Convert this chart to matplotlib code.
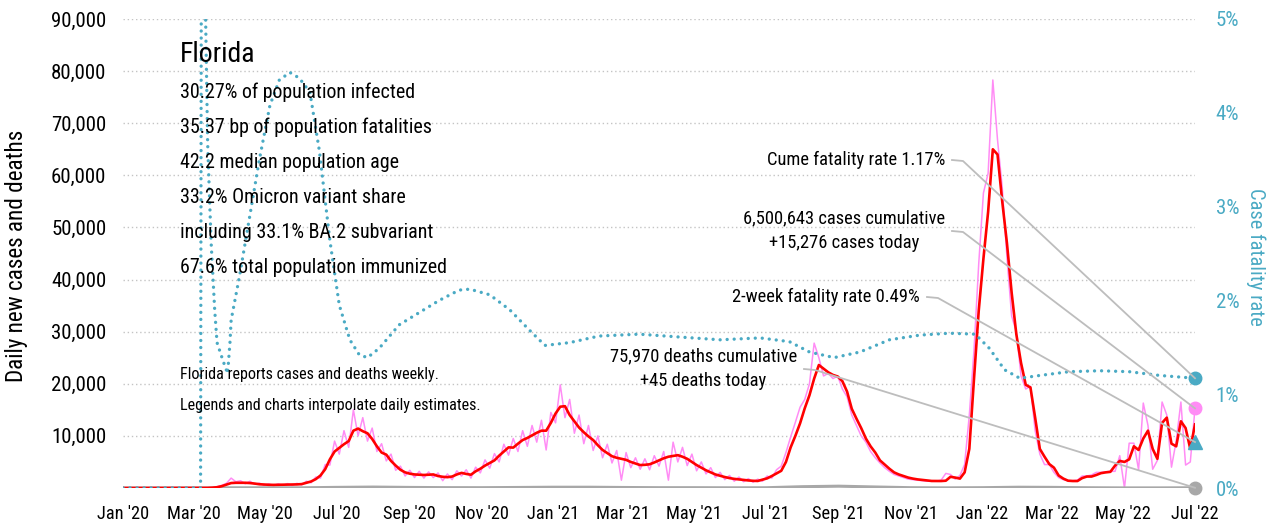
import os
import pandas as pd
import matplotlib
matplotlib.use("Agg")
import matplotlib.pyplot as plt
import matplotlib.dates as mdates
from matplotlib import font_manager as fm
from matplotlib.lines import Line2D

# ---- data (4-day grid, Jan 1 2020 .. Jul 1 2022) ----
grid_start, grid_end = "2020-01-01", "2022-07-01"

cases_smooth = [
    0, 0, 0, 0, 0, 0, 0, 0, 0, 0, 0, 0, 0, 0, 0, 0,
    0, 0, 20, 60, 150,
    350, 650, 950, 1000, 1000, 1000, 950, 850, 720, 670,
    620, 600, 620, 640, 650, 670, 690, 750, 1000, 1250,
    1700, 2400, 3600, 5500, 7000, 7700, 8400, 9000, 11000, 11400,
    10900, 10500, 9400, 8000, 6800, 6400, 5200, 4300, 3500, 3000,
    2750, 2600, 2550, 2500, 2550, 2600, 2300, 2150, 2080, 2200,
    2600, 2900, 2700, 2550, 3200, 3700, 4300, 4800, 5300, 6200,
    7000, 7800, 7750, 8500, 9200, 9600, 10100, 10600, 11000, 11000,
    12500, 14300, 15600, 15700, 14000, 12800, 11600, 10700, 9900, 9200,
    8200, 7300, 6700, 6100, 5800, 5600, 5400, 5000, 4700, 4400,
    4450, 4550, 4900, 5300, 5700, 6000, 6150, 6300, 6000, 5600,
    5000, 4400, 3900, 3400, 3000, 2600, 2350, 2100, 1900, 1750,
    1650, 1550, 1450, 1380, 1350, 1600, 1850, 2300, 2800, 3300,
    5000, 7800, 10000, 12400, 15300, 17800, 21000, 23600, 22900, 22200,
    21700, 21400, 20500, 18500, 15200, 13300, 11500, 9500, 8000, 6800,
    5300, 4500, 3700, 3000, 2600, 2300, 2000, 1800, 1650, 1550,
    1450, 1350, 1340, 1340, 1400, 2150, 2000, 1800, 3000, 7500,
    21000, 34000, 44000, 53000, 65000, 64000, 55000, 47000, 37500, 29500,
    24000, 19800, 19300, 13500, 7500, 6000, 4600, 3900, 2400, 1800,
    1400, 1340, 1340, 1900, 2200, 2200, 2500, 2850, 3000, 3100,
    4300, 5200, 5000, 5500, 8000, 7300, 9500, 11000, 7500, 5600,
    12500, 13500, 8500, 8000, 12800, 11500, 7500, 12200,
]

cases_raw = [
    0, 0, 0, 0, 0, 0, 0, 0, 0, 0, 0, 0, 0, 0, 0, 0,
    0, 10, 40, 100, 250,
    500, 900, 1900, 1200, 1400, 800, 1300, 700, 950, 500,
    800, 450, 800, 500, 850, 500, 900, 600, 1300, 1000,
    2100, 1900, 4500, 4400, 9000, 6500, 11000, 7800, 15000, 10000,
    13500, 9000, 11500, 7000, 8500, 5200, 6500, 3400, 4200, 2300,
    3400, 2000, 3200, 1900, 3100, 2000, 2900, 1400, 2700, 1600,
    3300, 2300, 3500, 1900, 4000, 2900, 5400, 3800, 6600, 5000,
    8400, 6300, 9500, 7000, 11000, 8000, 12000, 8800, 13000, 7300,
    14500, 12500, 19800, 13500, 17000, 10500, 14000, 8500, 12000, 7200,
    10000, 5800, 8400, 4800, 7200, 1500, 6800, 3900, 5800, 3600,
    5600, 3500, 6200, 4200, 7000, 1500, 8800, 5000, 7800, 4300,
    6500, 3300, 5000, 2700, 3900, 2000, 3000, 1600, 2400, 1300,
    2100, 1200, 1800, 1100, 1700, 1300, 2300, 1900, 3500, 4200,
    6800, 9800, 12600, 15500, 17000, 20000, 27800, 25000, 21500, 22000,
    21000, 21500, 19000, 17500, 14000, 12000, 10000, 8800, 7000, 5800,
    4800, 3900, 3200, 2600, 2300, 2000, 1700, 1600, 1500, 1400,
    1300, 1300, 1300, 1500, 2800, 2600, 1700, 2400, 4500, 14000,
    26500, 43000, 56600, 60400, 78300, 66800, 57700, 44300, 33000, 30000,
    21500, 19000, 19500, 11000, 6500, 4500, 4500, 3000, 2000, 1600,
    1400, 1400, 1500, 2300, 2300, 2500, 3000, 3000, 3100, 3200,
    3200, 6200, 0, 8600, 8600, 3500, 16300, 12000, 3600, 5300,
    16500, 14000, 4000, 9000, 16500, 4400, 5000, 15276,
]

# daily deaths, month starts
deaths = [
    0, 0, 2, 40, 45, 40, 120, 180, 110, 70, 60, 100,
    150, 150, 100, 60, 60, 40, 50, 250, 350, 200, 60, 30,
    60, 150, 120, 50, 20, 20, 45,
]

fatality_dates = [
    "2020-01-01", "2020-03-07", "2020-03-08", "2020-03-10", "2020-03-13",
    "2020-03-15", "2020-03-16", "2020-03-19", "2020-03-21", "2020-03-26",
    "2020-03-30", "2020-04-01", "2020-04-02", "2020-04-09", "2020-04-18",
    "2020-04-26", "2020-05-05", "2020-05-13", "2020-05-22", "2020-05-30",
    "2020-06-08", "2020-06-16", "2020-06-25", "2020-07-03", "2020-07-12",
    "2020-07-20", "2020-07-27", "2020-08-06", "2020-08-23", "2020-09-09",
    "2020-09-26", "2020-10-13", "2020-10-22", "2020-11-08", "2020-11-25",
    "2020-12-12", "2020-12-25", "2021-01-15", "2021-02-09", "2021-03-15",
    "2021-04-18", "2021-05-23", "2021-06-26", "2021-07-21", "2021-08-07",
    "2021-08-28", "2021-09-19", "2021-10-14", "2021-11-09", "2021-12-04",
    "2021-12-26", "2022-01-07", "2022-01-20", "2022-02-02", "2022-02-19",
    "2022-03-16", "2022-04-11", "2022-05-06", "2022-06-01", "2022-07-01",
]
fatality_pct = [
    0, 0, 9.0, 6.0, 3.68,
    2.96, 2.61, 1.90, 1.55, 1.36,
    1.22, 1.55, 1.79, 2.25, 2.91,
    3.50, 4.08, 4.35, 4.43, 4.37,
    4.22, 3.60, 2.64, 1.95, 1.58,
    1.42, 1.39, 1.49, 1.74, 1.87,
    2.00, 2.11, 2.12, 2.06, 1.90,
    1.68, 1.52, 1.55, 1.62, 1.64,
    1.61, 1.58, 1.60, 1.56, 1.45,
    1.39, 1.45, 1.58, 1.63, 1.65,
    1.64, 1.49, 1.26, 1.17, 1.20,
    1.24, 1.25, 1.24, 1.20, 1.17,
]

stats_lines = [
    "30.27% of population infected",
    "35.37 bp of population fatalities",
    "42.2 median population age",
    "33.2% Omicron variant share",
    "including 33.1% BA.2 subvariant",
    "67.6% total population immunized",
]
notes = [
    "Florida reports cases and deaths weekly.",
    "Legends and charts interpolate daily estimates.",
]
cume_rate = 1.17
two_week_rate = 0.49
cases_today = 15276
deaths_today = 45

# ---- styling ----
W, H = 1281, 529
PINK = "#ff8cf5"
RED = "#ff0000"
GRAY = "#a8a8a8"
TEAL = "#4aaac4"
LEADER = "#bdbdbd"


def fx(px):
    return px / W


def fy(py):
    return 1 - py / H


def pick_font():
    # the reference uses a condensed grotesque; take the narrowest one installed
    candidates = [
        ("Roboto Condensed", "normal"),
        ("Liberation Sans Narrow", "normal"),
        ("Noto Sans", "condensed"),
        ("DejaVu Sans", "condensed"),
        ("Open Sans", "condensed"),
    ]
    for fam, stretch in candidates:
        try:
            path = fm.findfont(fm.FontProperties(family=fam, stretch=stretch),
                               fallback_to_default=False)
        except ValueError:
            continue
        name = os.path.basename(path).lower()
        if stretch == "normal" or "cond" in name or "narrow" in name:
            return fam, stretch
    return "Roboto", "normal"


def main():
    family, stretch = pick_font()
    plt.rcParams["font.family"] = [family, "DejaVu Sans"]
    plt.rcParams["font.stretch"] = stretch

    grid = pd.date_range(grid_start, grid_end, freq="4D")
    month_starts = pd.date_range(grid_start, grid_end, freq="MS")
    fat_dates = pd.to_datetime(fatality_dates)
    end = grid[-1]

    fig = plt.figure(figsize=(W / 100, H / 100), dpi=100)
    renderer = fig.canvas.get_renderer()

    def fit(sample, width_px):
        # font size that makes `sample` about width_px wide, as in the reference
        t = fig.text(0, 0, sample, fontsize=10)
        w = t.get_window_extent(renderer).width
        t.remove()
        return 10 * width_px / w

    fs_title = fit("Florida", 76)
    fs_stats = fit(stats_lines[0], 234)
    fs_notes = fit(notes[0], 258)
    fs_note = fit("Cume fatality rate 1.17%", 177)
    fs_ytick = fit("90,000", 55)
    fs_xtick = fit("Jan '20", 52)
    fs_ylab = fit("Daily new cases and deaths", 250)
    fs_ylab2 = fit("Case fatality rate", 136)

    ax = fig.add_axes([fx(123), fy(488), (1195 - 123) / W, (488 - 19) / H])
    ax2 = ax.twinx()

    ax.plot(grid, cases_raw, color=PINK, lw=1.1, zorder=2)
    ax.plot(grid, cases_smooth, color=RED, lw=1.9, zorder=3)
    ax.plot(month_starts, deaths, color=GRAY, lw=2.2, zorder=2)
    ax2.plot(fat_dates, fatality_pct, color=TEAL, lw=2.4,
             linestyle=(0, (0.01, 2.1)), dash_capstyle="round", zorder=2)

    ax.set_xlim(grid[0], end)
    ax.set_ylim(0, 90000)
    ax2.set_ylim(0, 5)

    for a in (ax, ax2):
        for s in a.spines.values():
            s.set_visible(False)
        a.tick_params(length=0)

    ax.set_yticks(range(10000, 90001, 10000))
    ax.set_yticklabels([f"{v:,}" for v in range(10000, 90001, 10000)], fontsize=fs_ytick)
    ax.tick_params(axis="y", pad=12)
    ax.yaxis.grid(True, linestyle=(0, (1, 2)), color="#c4c4c4", lw=1)

    xt = pd.date_range(grid_start, grid_end, freq="2MS")
    ax.set_xticks(xt)
    ax.set_xticklabels([d.strftime("%b '%y") for d in xt], fontsize=fs_xtick)
    ax.tick_params(axis="x", pad=12)

    ax2.set_yticks(range(0, 6))
    ax2.set_yticklabels([f"{v}%" for v in range(0, 6)], fontsize=fs_ytick, color=TEAL)
    ax2.tick_params(axis="y", pad=15)

    # end-point markers
    ax2.plot([end], [cume_rate], "o", color=TEAL, ms=9, clip_on=False, zorder=6)
    ax.plot([end], [cases_today], "o", color=PINK, ms=9, clip_on=False, zorder=6)
    ax2.plot([end], [two_week_rate], "^", color=TEAL, ms=10, clip_on=False, zorder=6)
    ax.plot([end], [deaths_today], "o", color=GRAY, ms=9, clip_on=False, zorder=6)

    # axis titles
    fig.text(fx(17), fy(256), "Daily new cases and deaths", rotation=90,
             ha="center", va="center", fontsize=fs_ylab)
    fig.text(fx(1256), fy(257), "Case fatality rate", rotation=270,
             ha="center", va="center", fontsize=fs_ylab2, color=TEAL)

    # title block
    fig.text(fx(180), fy(62), "Florida", fontsize=fs_title, va="baseline")
    for i, line in enumerate(stats_lines):
        fig.text(fx(180), fy(98 + 35 * i), line, fontsize=fs_stats, va="baseline")
    for i, line in enumerate(notes):
        fig.text(fx(180), fy(379 + 31 * i), line, fontsize=fs_notes, va="baseline")

    # annotations with leader lines
    xn = mdates.date2num(end)
    annotations = [
        (f"Cume fatality rate {cume_rate}%", 945, 160, ax2, cume_rate),
        (f"6,500,643 cases cumulative\n+{cases_today:,} cases today", 945, 231, ax, cases_today),
        (f"2-week fatality rate {two_week_rate}%", 920, 297, ax2, two_week_rate),
        (f"75,970 deaths cumulative\n+{deaths_today} deaths today", 797, 369, ax, deaths_today),
    ]
    for label, rx, cy, a, val in annotations:
        if "\n" in label:
            fig.text(fx(rx), fy(cy), label, fontsize=fs_note, ha="right", va="center",
                     multialignment="center", linespacing=1.45)
        else:
            fig.text(fx(rx), fy(cy), label, fontsize=fs_note, ha="right", va="center")
        mx, my = a.transData.transform((xn, val))
        xs = [rx + 7, rx + 18, mx]
        ys = [cy, cy + 1, H - my]
        fig.add_artist(Line2D([fx(x) for x in xs], [fy(y) for y in ys],
                              color=LEADER, lw=1.3, zorder=5))

    fig.savefig("out.png", dpi=100)


if __name__ == "__main__":
    main()
